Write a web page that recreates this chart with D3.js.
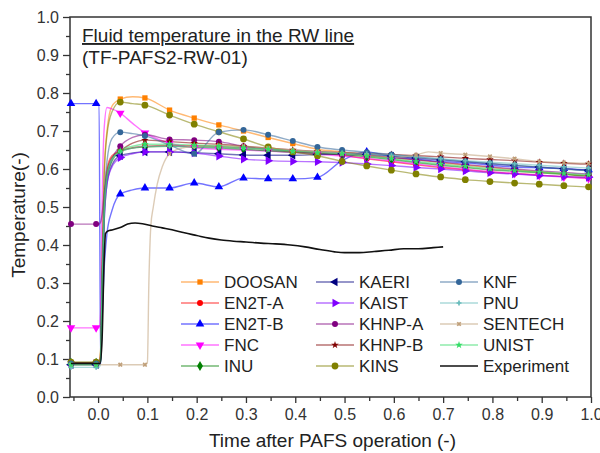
<!DOCTYPE html>
<html>
<head>
<meta charset="utf-8">
<title>Fluid temperature in the RW line</title>
<script src="https://d3js.org/d3.v7.min.js"></script>
<style>
  body { margin: 0; background: #fff; }
  text { font-family: "Liberation Sans", Arial, sans-serif; fill: #222; }
  .tick text { fill: #333; }
</style>
</head>
<body>
<script>
// ---------------- data ----------------
// shared time grid for the code results
var simTime = [-0.055, -0.004, 0.002, 0.005, 0.008, 0.012, 0.018, 0.028, 0.045, 0.07, 0.095,
  0.145, 0.195, 0.245, 0.295, 0.345, 0.395, 0.445, 0.495, 0.545, 0.595, 0.645, 0.695,
  0.745, 0.795, 0.845, 0.895, 0.945, 0.995, 1.0];
// points that carry a symbol
var markerTime = [-0.055, -0.004, 0.045, 0.095, 0.145, 0.195, 0.245, 0.295, 0.345, 0.395,
  0.445, 0.495, 0.545, 0.595, 0.645, 0.695, 0.745, 0.795, 0.845, 0.895, 0.945, 0.995];

var doosan = [0.09, 0.09, 0.09, 0.12, 0.35, 0.58, 0.70, 0.765, 0.784, 0.79, 0.787, 0.755, 0.734, 0.716, 0.70, 0.683, 0.667, 0.652, 0.645, 0.637, 0.63, 0.624, 0.617, 0.61, 0.604, 0.598, 0.592, 0.587, 0.582, 0.582];
var en2tA  = [0.09, 0.09, 0.09, 0.11, 0.30, 0.50, 0.60, 0.635, 0.648, 0.656, 0.66, 0.662, 0.661, 0.659, 0.656, 0.652, 0.647, 0.642, 0.636, 0.627, 0.619, 0.611, 0.604, 0.598, 0.592, 0.588, 0.584, 0.58, 0.577, 0.577];
var en2tB  = [0.772, 0.772, 0.772, 0.09, 0.20, 0.33, 0.43, 0.49, 0.534, 0.545, 0.55, 0.55, 0.563, 0.553, 0.576, 0.574, 0.574, 0.578, 0.622, 0.645, 0.633, 0.626, 0.62, 0.616, 0.61, 0.605, 0.603, 0.601, 0.598, 0.598];
var fnc    = [0.182, 0.182, 0.182, 0.22, 0.50, 0.70, 0.762, 0.758, 0.747, 0.72, 0.695, 0.668, 0.656, 0.652, 0.65, 0.647, 0.643, 0.639, 0.634, 0.628, 0.621, 0.613, 0.606, 0.599, 0.593, 0.588, 0.583, 0.579, 0.575, 0.575];
var inu    = [0.09, 0.09, 0.09, 0.10, 0.28, 0.48, 0.58, 0.62, 0.645, 0.655, 0.658, 0.66, 0.658, 0.656, 0.652, 0.648, 0.644, 0.641, 0.638, 0.632, 0.625, 0.617, 0.61, 0.604, 0.598, 0.594, 0.59, 0.586, 0.582, 0.582];
var kaeri  = [0.085, 0.085, 0.085, 0.095, 0.25, 0.45, 0.56, 0.61, 0.635, 0.642, 0.645, 0.645, 0.643, 0.64, 0.637, 0.636, 0.636, 0.638, 0.64, 0.638, 0.634, 0.629, 0.624, 0.619, 0.614, 0.609, 0.605, 0.601, 0.597, 0.597];
var kaist  = [0.088, 0.088, 0.088, 0.10, 0.26, 0.45, 0.56, 0.605, 0.63, 0.64, 0.645, 0.645, 0.642, 0.634, 0.626, 0.622, 0.62, 0.619, 0.617, 0.613, 0.609, 0.604, 0.60, 0.595, 0.59, 0.587, 0.583, 0.58, 0.578, 0.578];
var khnpA  = [0.455, 0.455, 0.455, 0.46, 0.48, 0.53, 0.58, 0.625, 0.66, 0.683, 0.69, 0.678, 0.676, 0.672, 0.66, 0.652, 0.646, 0.642, 0.639, 0.635, 0.63, 0.624, 0.618, 0.612, 0.606, 0.60, 0.595, 0.591, 0.587, 0.587];
var khnpB  = [0.09, 0.09, 0.09, 0.10, 0.28, 0.48, 0.59, 0.63, 0.648, 0.668, 0.676, 0.672, 0.668, 0.665, 0.66, 0.655, 0.65, 0.646, 0.643, 0.641, 0.638, 0.635, 0.632, 0.628, 0.625, 0.622, 0.618, 0.615, 0.613, 0.613];
var kins   = [0.092, 0.092, 0.092, 0.12, 0.35, 0.57, 0.69, 0.75, 0.776, 0.772, 0.768, 0.742, 0.718, 0.698, 0.679, 0.658, 0.645, 0.635, 0.62, 0.608, 0.597, 0.587, 0.579, 0.572, 0.567, 0.563, 0.56, 0.556, 0.553, 0.553];
var knf    = [0.088, 0.088, 0.088, 0.10, 0.30, 0.50, 0.62, 0.68, 0.697, 0.693, 0.687, 0.663, 0.64, 0.697, 0.703, 0.69, 0.674, 0.658, 0.65, 0.644, 0.638, 0.632, 0.626, 0.62, 0.615, 0.61, 0.605, 0.60, 0.596, 0.596];
var pnu    = [0.078, 0.078, 0.078, 0.09, 0.27, 0.47, 0.58, 0.625, 0.645, 0.655, 0.66, 0.66, 0.659, 0.657, 0.655, 0.652, 0.648, 0.645, 0.642, 0.64, 0.636, 0.632, 0.627, 0.622, 0.618, 0.614, 0.61, 0.606, 0.603, 0.603];
var unist  = [0.085, 0.085, 0.085, 0.095, 0.27, 0.47, 0.58, 0.625, 0.648, 0.66, 0.665, 0.665, 0.663, 0.66, 0.656, 0.652, 0.647, 0.643, 0.64, 0.634, 0.627, 0.62, 0.613, 0.607, 0.601, 0.596, 0.592, 0.588, 0.585, 0.585];

// SENTECH has its own time base (late jump at t = 0.1)
var sentechTime = [-0.055, -0.004, 0.045, 0.095, 0.10, 0.103, 0.107, 0.112, 0.12, 0.13, 0.145, 0.17, 0.195,
  0.245, 0.295, 0.345, 0.395, 0.445, 0.495, 0.545, 0.595, 0.645, 0.67, 0.695, 0.745, 0.795, 0.845,
  0.895, 0.945, 0.995, 1.0];
var sentech = [0.085, 0.085, 0.085, 0.085, 0.09, 0.30, 0.45, 0.50, 0.56, 0.605, 0.64, 0.655, 0.66,
  0.662, 0.66, 0.655, 0.65, 0.645, 0.64, 0.635, 0.63, 0.637, 0.645, 0.642, 0.638, 0.633, 0.627,
  0.62, 0.617, 0.615, 0.615];

// experiment
var expTime = [-0.055, 0.004, 0.008, 0.012, 0.015, 0.02, 0.03, 0.045, 0.06, 0.075, 0.09, 0.11, 0.13,
  0.15, 0.175, 0.2, 0.225, 0.25, 0.275, 0.3, 0.33, 0.36, 0.39, 0.42, 0.45, 0.48, 0.5, 0.53, 0.56,
  0.59, 0.62, 0.65, 0.68, 0.7];
var expValue = [0.088, 0.088, 0.15, 0.35, 0.43, 0.437, 0.44, 0.446, 0.455, 0.458, 0.456, 0.45, 0.445,
  0.44, 0.432, 0.425, 0.418, 0.413, 0.41, 0.408, 0.405, 0.403, 0.40, 0.395, 0.388, 0.382, 0.38,
  0.38, 0.383, 0.386, 0.39, 0.39, 0.393, 0.395];

var yTicks = [0.0, 0.1, 0.2, 0.3, 0.4, 0.5, 0.6, 0.7, 0.8, 0.9, 1.0];
var yMinor = [0.05, 0.15, 0.25, 0.35, 0.45, 0.55, 0.65, 0.75, 0.85, 0.95];
var xTicks = [0.0, 0.1, 0.2, 0.3, 0.4, 0.5, 0.6, 0.7, 0.8, 0.9, 1.0];
var xMinor = [-0.05, 0.05, 0.15, 0.25, 0.35, 0.45, 0.55, 0.65, 0.75, 0.85, 0.95];

var series = [
  { name: "DOOSAN",  color: "#FF8000", shape: "square",  t: simTime, v: doosan },
  { name: "EN2T-A",  color: "#FF0000", shape: "circle",  t: simTime, v: en2tA },
  { name: "EN2T-B",  color: "#0000FF", shape: "up",      t: simTime, v: en2tB },
  { name: "FNC",     color: "#FF00FF", shape: "down",    t: simTime, v: fnc },
  { name: "INU",     color: "#008000", shape: "diamond", t: simTime, v: inu },
  { name: "KAERI",   color: "#000080", shape: "left",    t: simTime, v: kaeri },
  { name: "KAIST",   color: "#8000FF", shape: "right",   t: simTime, v: kaist },
  { name: "KHNP-A",  color: "#800080", shape: "circle",  t: simTime, v: khnpA },
  { name: "KHNP-B",  color: "#800000", shape: "star",    t: simTime, v: khnpB },
  { name: "KINS",    color: "#808000", shape: "bigcircle", t: simTime, v: kins },
  { name: "KNF",     color: "#336699", shape: "circle",  t: simTime, v: knf },
  { name: "PNU",     color: "#66BBBB", shape: "plus",    t: simTime, v: pnu },
  { name: "SENTECH", color: "#C0A07A", shape: "times",   t: sentechTime, v: sentech },
  { name: "UNIST",   color: "#33DD66", shape: "star",    t: simTime, v: unist }
];

// ---------------- layout ----------------
var W = 600, H = 453;
var padL = 70, padR = 591, padT = 17, padB = 397;

var svg = d3.select("body").append("svg")
  .attr("width", W).attr("height", H);

var x = d3.scaleLinear().domain([-0.057, 1.0]).range([padL, padR]);
var y = d3.scaleLinear().domain([0, 1]).range([padB, padT]);

function symbolPath(shape) {
  var type = d3.symbolCircle, size = 28;
  if (shape == "square") { type = d3.symbolSquare; size = 28; }
  if (shape == "bigcircle") { size = 36; }
  if (shape == "up" || shape == "down" || shape == "left" || shape == "right") { type = d3.symbolTriangle; size = 32; }
  if (shape == "diamond") { type = d3.symbolDiamond; size = 30; }
  if (shape == "star") { type = d3.symbolStar; size = 18; }
  if (shape == "plus" || shape == "times") { type = d3.symbolCross; size = 14; }
  return d3.symbol().type(type).size(size)();
}
function symbolRot(shape) {
  if (shape == "down") return 180;
  if (shape == "left") return -90;
  if (shape == "right") return 90;
  if (shape == "times") return 45;
  return 0;
}

// frame
svg.append("rect")
  .attr("x", padL).attr("y", padT)
  .attr("width", padR - padL).attr("height", padB - padT)
  .attr("fill", "none").attr("stroke", "#333").attr("stroke-width", 1.5);

// axes
function styleAxis(g) {
  g.select(".domain").remove();
  g.selectAll(".tick line").attr("stroke", "#333").attr("stroke-width", 1.3);
  g.selectAll(".tick text").style("font-size", "16px");
}
svg.append("g").attr("transform", "translate(" + padL + ",0)")
  .call(d3.axisLeft(y).tickValues(yTicks).tickFormat(d3.format(".1f")).tickSize(7).tickPadding(4))
  .call(styleAxis);
svg.append("g").attr("transform", "translate(" + padL + ",0)")
  .call(d3.axisLeft(y).tickValues(yMinor).tickFormat("").tickSize(4))
  .call(styleAxis);
svg.append("g").attr("transform", "translate(0," + padB + ")")
  .call(d3.axisBottom(x).tickValues(xTicks).tickFormat(d3.format(".1f")).tickSize(6).tickPadding(6))
  .call(styleAxis);
svg.append("g").attr("transform", "translate(0," + padB + ")")
  .call(d3.axisBottom(x).tickValues(xMinor).tickFormat("").tickSize(4))
  .call(styleAxis);

// axis titles
svg.append("text").text("Time after PAFS operation (-)")
  .attr("x", (padL + padR) / 2 + 2).attr("y", 447)
  .attr("text-anchor", "middle").style("font-size", "19px");
svg.append("text").text("Temperature(-)")
  .attr("transform", "translate(25," + ((padT + padB) / 2 + 8) + ") rotate(-90)")
  .attr("text-anchor", "middle").style("font-size", "19px");

// title inside the plot
svg.append("text").text("Fluid temperature in the RW line")
  .attr("x", 82).attr("y", 42).style("font-size", "19px")
  .style("text-decoration", "underline");
svg.append("text").text("(TF-PAFS2-RW-01)")
  .attr("x", 82).attr("y", 64).style("font-size", "19px");

// lines
var line = d3.line()
  .x(function (d) { return x(d[0]); })
  .y(function (d) { return y(d[1]); })
  .curve(d3.curveMonotoneX);

var plot = svg.append("g");

series.forEach(function (s) {
  var pts = s.t.map(function (t, i) { return [t, s.v[i]]; });
  plot.append("path").datum(pts)
    .attr("d", line)
    .attr("fill", "none")
    .attr("stroke", s.color)
    .attr("stroke-opacity", 0.55)
    .attr("stroke-width", 1.4);
});

series.forEach(function (s) {
  var pts = s.t.map(function (t, i) { return [t, s.v[i]]; })
    .filter(function (d) { return markerTime.indexOf(d[0]) >= 0; });
  plot.selectAll(null).data(pts).enter().append("path")
    .attr("d", symbolPath(s.shape))
    .attr("transform", function (d) {
      return "translate(" + x(d[0]) + "," + y(d[1]) + ") rotate(" + symbolRot(s.shape) + ")";
    })
    .attr("fill", s.color);
});

// experiment
var expPts = expTime.map(function (t, i) { return [t, expValue[i]]; });
plot.append("path").datum(expPts)
  .attr("d", line)
  .attr("fill", "none")
  .attr("stroke", "#111")
  .attr("stroke-width", 1.6);

// ---------------- legend ----------------
var legendItems = series.map(function (s) { return s; });
legendItems.push({ name: "Experiment", color: "#111", shape: null });

var colX = [181, 316, 440];
var legend = svg.append("g");
legendItems.forEach(function (s, i) {
  var col = Math.floor(i / 5), row = i % 5;
  var lx = colX[col], ly = 282 + row * 21;
  var g = legend.append("g").attr("transform", "translate(" + lx + "," + ly + ")");
  g.append("line").attr("x1", 0).attr("x2", 38).attr("y1", 0).attr("y2", 0)
    .attr("stroke", s.color)
    .attr("stroke-opacity", s.shape ? 0.55 : 1)
    .attr("stroke-width", s.shape ? 1.4 : 1.6);
  if (s.shape) {
    g.append("path").attr("d", symbolPath(s.shape))
      .attr("transform", "translate(19,0) rotate(" + symbolRot(s.shape) + ")")
      .attr("fill", s.color);
  }
  g.append("text").text(s.name)
    .attr("x", 43).attr("y", 6)
    .style("font-size", "17px");
});
</script>
</body>
</html>
